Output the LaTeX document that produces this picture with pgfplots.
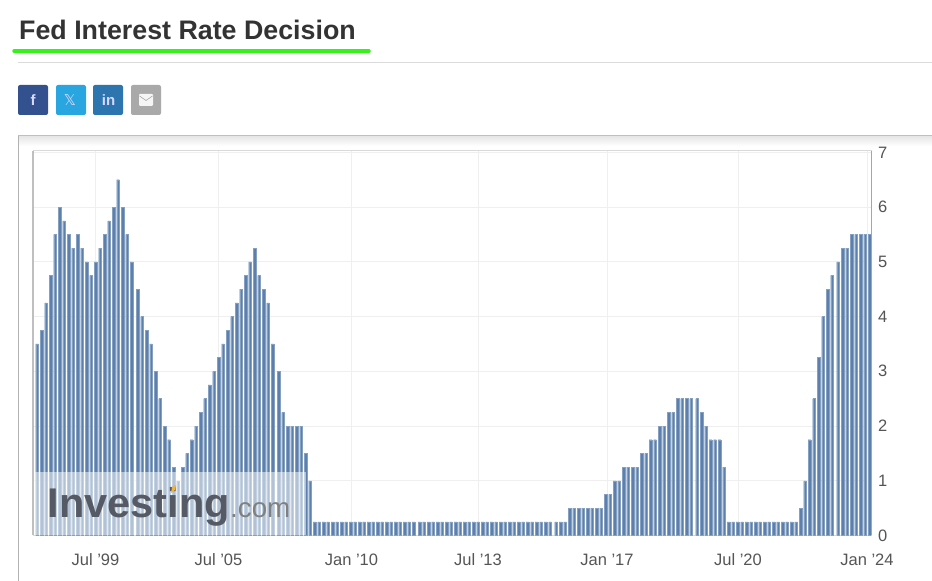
\documentclass[border=0pt]{standalone}
\usepackage{pgfplots}
\pgfplotsset{compat=1.18}
\usepackage{fontspec}
\setmainfont{Liberation Sans}
\newfontfamily\symb{DejaVu Sans}
\definecolor{bar}{HTML}{5C80AD}
\definecolor{txt}{HTML}{333333}
\definecolor{tick}{HTML}{555555}
\definecolor{gridc}{HTML}{EFEFEF}
\begin{document}
\begin{tikzpicture}[x=1pt,y=1pt]
\clip (0,0) rectangle (932,581);
\fill[white] (0,0) rectangle (932,581);
% page header
\node[anchor=base west,inner sep=0,text=txt,font=\bfseries\fontsize{26.8}{30}\selectfont] at (19,541) {Fed Interest Rate Decision};
\draw[color={rgb,255:red,52;green,242;blue,26},line width=3.5pt,line cap=round] (14,530) -- (369,530);
\draw[color=black!14,line width=1pt] (18,518) -- (932,518);
% share buttons
\fill[rounded corners=2pt,color={rgb,255:red,52;green,81;blue,143}] (18,466) rectangle (48,496);
\fill[rounded corners=2pt,color={rgb,255:red,41;green,165;blue,224}] (56,466) rectangle (86,496);
\fill[rounded corners=2pt,color={rgb,255:red,44;green,117;blue,174}] (93,466) rectangle (123,496);
\fill[rounded corners=2pt,color={rgb,255:red,169;green,169;blue,169}] (131,466) rectangle (161,496);
\node[text=white!85!blue,font=\bfseries\fontsize{15}{18}\selectfont,inner sep=0] at (33,481) {f};
\node[text=white!85!blue,font=\symb\fontsize{15}{18}\selectfont,inner sep=0] at (70,481) {𝕏};
\node[text=white!85!blue,font=\bfseries\fontsize{15}{18}\selectfont,inner sep=0] at (108.5,480.5) {in};
\fill[white!92!gray,rounded corners=1pt] (139,475) rectangle (153,487);
\draw[gray!70,line width=.6pt] (139.5,485) -- (146,480.5) -- (152.5,485);
% chart container
\shade[top color=black!10,bottom color=white] (18,435) rectangle (932,445);
\draw[color=black!25,line width=1pt] (18,445) -- (932,445);
\draw[color=black!30,line width=1pt] (18,445) -- (18,0);
\begin{axis}[
  at={(33pt,45.5pt)},anchor=south west,
  scale only axis,width=838pt,height=384.8pt,
  xmin=33,xmax=871,ymin=0,ymax=7.03,
  ybar,bar width=2.6,bar shift=0pt,
  xtick={95.5,218.5,351.5,478,607,738,867},
  xticklabels={Jul '99,Jul '05,Jan '10,Jul '13,Jan '17,Jul '20,Jan '24},
  ytick={0,1,2,3,4,5,6,7},
  yticklabel pos=right,
  /pgf/number format/assume math mode=true,
  tick style={draw=none},
  major tick length=0pt,
  grid=major,
  major grid style={color=gridc,line width=1pt},
  axis line style={color=black!15,line width=1pt},
  tick label style={text=tick,font=\fontsize{16.5}{18}\selectfont},
  yticklabel style={anchor=west,xshift=7pt,inner sep=0pt},
  xticklabel style={anchor=base,yshift=-30pt,inner sep=0pt},
]
\addplot[fill=bar,draw=bar!75,line width=.35pt] table {
x y
37 3.5
41.5 3.75
46 4.25
50.5 4.75
55 5.5
59.5 6
64 5.75
68.5 5.5
73 5.25
77.5 5.5
82 5.25
86.5 5
91 4.75
95.5 5
100 5.25
104.5 5.5
109 5.75
113.5 6
118 6.5
122.5 6
127 5.5
131.5 5
137.5 4.5
142 4
146.5 3.75
151 3.5
155.5 3
160 2.5
164.5 2
169 1.75
173.5 1.25
178 1
182.5 1.25
187 1.5
191.5 1.75
196 2
200.5 2.25
205 2.5
209.5 2.75
214 3
218.5 3.25
223 3.5
227.5 3.75
232 4
236.5 4.25
241 4.5
245.5 4.75
250 5
254.5 5.25
259 4.75
263.5 4.5
268 4.25
272.5 3.5
278.5 3
283 2.25
287.5 2
292 2
296.5 2
301 2
305.5 1.5
310 1
314.5 .25
319 .25
323.5 .25
328 .25
332.5 .25
337 .25
341.5 .25
346 .25
350.5 .25
355 .25
359.5 .25
364 .25
368.5 .25
373 .25
377.5 .25
382 .25
386.5 .25
391 .25
395.5 .25
400 .25
404.5 .25
409 .25
413.5 .25
419.5 .25
424 .25
428.5 .25
433 .25
437.5 .25
442 .25
446.5 .25
451 .25
455.5 .25
460 .25
464.5 .25
469 .25
473.5 .25
478 .25
482.5 .25
487 .25
491.5 .25
496 .25
500.5 .25
505 .25
509.5 .25
514 .25
518.5 .25
523 .25
527.5 .25
532 .25
536.5 .25
541 .25
545.5 .25
550 .25
556 .25
560.5 .25
565 .25
569.5 .5
574 .5
578.5 .5
583 .5
587.5 .5
592 .5
596.5 .5
601 .5
605.5 .75
610 .75
614.5 1
619 1
623.5 1.25
628 1.25
632.5 1.25
637 1.25
641.5 1.5
646 1.5
650.5 1.75
655 1.75
659.5 2
664 2
668.5 2.25
673 2.25
677.5 2.5
682 2.5
686.5 2.5
691 2.5
697 2.5
701.5 2.25
706 2
710.5 1.75
715 1.75
719.5 1.75
724 1.25
728.5 .25
733 .25
737.5 .25
742 .25
746.5 .25
751 .25
755.5 .25
760 .25
764.5 .25
769 .25
773.5 .25
778 .25
782.5 .25
787 .25
791.5 .25
796 .25
800.5 .5
805 1
809.5 1.75
814 2.5
818.5 3.25
823 4
827.5 4.5
832 4.75
838 5
842.5 5.25
847 5.25
851.5 5.5
856 5.5
860.5 5.5
865 5.5
869.5 5.5
};
\end{axis}
% stronger side rules of the plot frame
\draw[color=black!25,line width=1.2pt] (33,45.5) -- (33,430.3);
\draw[color=black!35,line width=1pt] (871,45.5) -- (871,430.3);
% Investing.com watermark
\fill[white,opacity=.52] (33.5,46) rectangle (306,109);
\node[anchor=base west,inner sep=0,text={rgb,255:red,85;green,90;blue,100},font=\bfseries\fontsize{41.5}{44}\selectfont] at (47.5,63) {Investing};
\node[anchor=base west,inner sep=0,text=black!50,font=\fontsize{27.7}{30}\selectfont] at (230,63) {.com};
\fill[color={rgb,255:red,240;green,180;blue,60}] (171,88) -- (175,91) -- (176,96) -- (172,94) -- cycle;
\end{tikzpicture}
\end{document}
